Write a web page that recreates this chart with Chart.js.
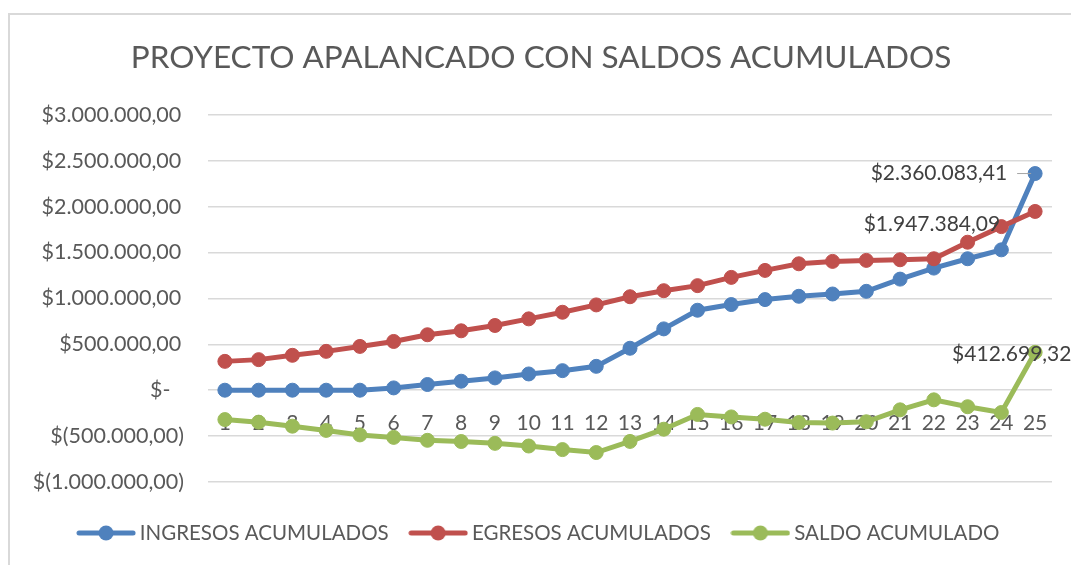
<!DOCTYPE html>
<html>
<head>
<meta charset="utf-8">
<script src="https://cdn.jsdelivr.net/npm/chart.js@4"></script>
<style>
  html, body { margin: 0; padding: 0; background: #fff; }
  #wrap { width: 1071px; height: 565px; position: relative; }
</style>
</head>
<body>
<div id="wrap"><canvas id="grafico"></canvas></div>
<script>
const periodos = ['1','2','3','4','5','6','7','8','9','10','11','12','13','14','15','16','17','18','19','20','21','22','23','24','25'];

const ingresos = [0, 0, 0, 0, 0, 25000, 62000, 98000, 134000, 177000, 213000, 260000,
  457000, 668000, 871000, 933000, 987000, 1023000, 1048000, 1077000, 1210000, 1330000,
  1432000, 1529000, 2360083.41];

const egresos = [314000, 333000, 380000, 423000, 477000, 531000, 604000, 647000, 705000,
  777000, 849000, 929000, 1018000, 1084000, 1139000, 1229000, 1305000, 1377000, 1403000,
  1414000, 1421000, 1432000, 1612000, 1782000, 1947384.09];

const saldo = [-320000, -348000, -392000, -438000, -487000, -514000, -546000, -559000,
  -579000, -608000, -647000, -679000, -558000, -425000, -264000, -291000, -316000,
  -352000, -358000, -344000, -214000, -105000, -180000, -243000, 412699.32];

const series = ['INGRESOS ACUMULADOS', 'EGRESOS ACUMULADOS', 'SALDO ACUMULADO'];
const colores = ['#4F81BD', '#C0504D', '#9BBB59'];

const fuente = "Lato, 'Open Sans', sans-serif";
const gris = '#595959';

// formato contable: $1.234,56 / $(1.234,56) / $-
function pesos(v) {
  if (v === 0) return '$-';
  const partes = Math.abs(v).toFixed(2).split('.');
  const miles = partes[0].replace(/\B(?=(\d{3})+(?!\d))/g, '.');
  const txt = miles + ',' + partes[1];
  return v < 0 ? '$(' + txt + ')' : '$' + txt;
}

function marcadorLeyenda(color) {
  const c = document.createElement('canvas');
  c.width = 60; c.height = 16;
  const g = c.getContext('2d');
  g.strokeStyle = color;
  g.lineWidth = 5;
  g.lineCap = 'round';
  g.beginPath(); g.moveTo(3, 8); g.lineTo(57, 8); g.stroke();
  g.fillStyle = color;
  g.beginPath(); g.arc(30, 8, 7.5, 0, Math.PI * 2); g.fill();
  return c;
}

const marco = {
  id: 'marco',
  beforeDraw(chart) {
    const ctx = chart.ctx;
    ctx.save();
    ctx.strokeStyle = '#d9d9d9';
    ctx.lineWidth = 2;
    ctx.beginPath();
    ctx.moveTo(9, 565); ctx.lineTo(9, 14); ctx.lineTo(1071, 14);
    ctx.stroke();
    ctx.restore();
  }
};

// etiquetas del último periodo
const etiquetasFinales = {
  id: 'etiquetasFinales',
  afterDatasetsDraw(chart) {
    const ctx = chart.ctx;
    const n = periodos.length - 1;
    const ajustes = [
      { dx: -28, dy: 0, align: 'right', guia: true },
      { dx: -35, dy: 13, align: 'right' },
      { dx: -83, dy: 2, align: 'left' }
    ];
    ctx.save();
    ctx.font = '21px ' + fuente;
    ctx.textBaseline = 'middle';
    chart.data.datasets.forEach((ds, i) => {
      const p = chart.getDatasetMeta(i).data[n];
      const a = ajustes[i];
      if (a.guia) {
        ctx.strokeStyle = '#a6a6a6';
        ctx.lineWidth = 1;
        ctx.beginPath();
        ctx.moveTo(p.x - 18, p.y);
        ctx.lineTo(p.x - 4, p.y);
        ctx.stroke();
      }
      ctx.fillStyle = '#404040';
      ctx.textAlign = a.align;
      ctx.fillText(pesos(ds.data[n]), p.x + a.dx, p.y + a.dy);
    });
    ctx.restore();
  }
};

const datos = [ingresos, egresos, saldo];

new Chart(document.getElementById('grafico'), {
  type: 'line',
  data: {
    labels: periodos,
    datasets: datos.map((d, i) => ({
      label: series[i],
      data: d,
      borderColor: colores[i],
      backgroundColor: colores[i],
      borderWidth: 5,
      pointRadius: 7,
      pointBorderWidth: 1,
      pointBorderColor: colores[i],
      pointBackgroundColor: colores[i],
      tension: 0,
      order: 2 - i
    }))
  },
  options: {
    responsive: true,
    maintainAspectRatio: false,
    animation: false,
    layout: { padding: { left: 30, right: 19, top: 0, bottom: 11.75 } },
    scales: {
      x: {
        type: 'category',
        position: { y: 0 },
        offset: true,
        z: 1,
        grid: { display: false, drawTicks: false },
        border: { display: false },
        ticks: { color: gris, font: { family: fuente, size: 21 }, padding: 20, maxRotation: 0, autoSkip: false }
      },
      y: {
        min: -1000000,
        max: 3000000,
        afterFit(scale) { scale.width = 178; },
        grid: { color: '#d9d9d9', lineWidth: 1.5, drawTicks: false },
        border: { display: false },
        ticks: {
          stepSize: 500000,
          padding: 24,
          color: gris,
          font: { family: fuente, size: 21.5 },
          callback: v => {
            if (v === 0) return '$-\u2002\u2009';
            return v > 0 ? pesos(v) + '\u2009' : pesos(v);
          }
        }
      }
    },
    plugins: {
      title: {
        display: true,
        text: 'PROYECTO APALANCADO CON SALDOS ACUMULADOS',
        color: gris,
        font: { family: fuente, size: 31.5, weight: 'normal' },
        padding: { top: 39, bottom: 38 }
      },
      subtitle: {
        display: true,
        text: '',
        position: 'bottom',
        weight: 500,
        font: { size: 1, lineHeight: 1 },
        padding: { top: 13.75, bottom: 0 }
      },
      legend: {
        position: 'bottom',
        labels: {
          usePointStyle: true,
          pointStyleWidth: 47,
          padding: 26,
          color: gris,
          font: { family: fuente, size: 20.5 },
          generateLabels: chart => chart.data.datasets.map((ds, i) => ({
            text: ds.label,
            pointStyle: marcadorLeyenda(colores[i]),
            fillStyle: colores[i],
            strokeStyle: colores[i],
            lineWidth: 0,
            fontColor: gris,
            datasetIndex: i,
            hidden: false
          }))
        }
      },
      tooltip: { enabled: false }
    }
  },
  plugins: [marco, etiquetasFinales]
});
</script>
</body>
</html>
